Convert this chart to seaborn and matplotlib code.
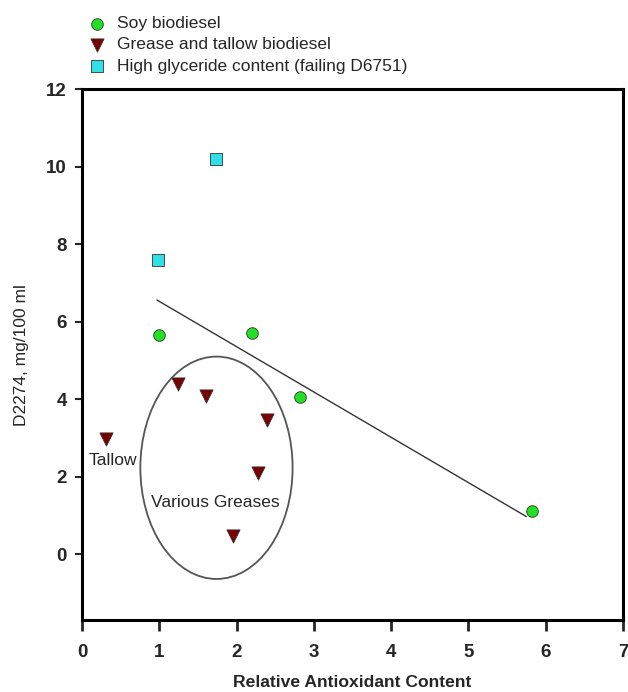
import numpy as np
import pandas as pd
import seaborn as sns
import matplotlib.pyplot as plt
from matplotlib.patches import Ellipse

# data
soy_x = [1.0, 2.2, 2.82, 5.82]
soy_y = [5.67, 5.7, 4.06, 1.12]
grease_x = [0.31, 1.24, 1.61, 2.39, 2.28, 1.96]
grease_y = [2.97, 4.38, 4.08, 3.46, 2.10, 0.46]
glyc_x = [0.98, 1.73]
glyc_y = [7.59, 10.2]
trend_x = [0.97, 5.75]
trend_y = [6.56, 0.97]

labels = ["Soy biodiesel", "Grease and tallow biodiesel",
          "High glyceride content (failing D6751)"]

df = pd.DataFrame({
    "x": soy_x + grease_x + glyc_x,
    "y": soy_y + grease_y + glyc_y,
    "group": [labels[0]] * len(soy_x) + [labels[1]] * len(grease_x) + [labels[2]] * len(glyc_x),
})

sns.set_style("white")
plt.rcParams['font.family'] = ['Liberation Sans', 'DejaVu Sans']

fig = plt.figure(figsize=(6.28, 6.92), dpi=100)
ax = fig.add_axes([0.1306, 0.104, 0.8614, 0.767])

palette = {labels[0]: "#22e022", labels[1]: "#7a0000", labels[2]: "#30e0e8"}
markers = {labels[0]: "o", labels[1]: "v", labels[2]: "s"}
sizes = {labels[0]: 70, labels[1]: 90, labels[2]: 80}

for g in labels:
    sub = df[df.group == g]
    sns.scatterplot(data=sub, x="x", y="y", color=palette[g], marker=markers[g],
                    s=sizes[g], edgecolor="#333333", linewidth=0.6, ax=ax,
                    label=g, zorder=3)

sns.lineplot(x=trend_x, y=trend_y, color="#333333", linewidth=1.0, ax=ax,
             legend=False, zorder=2)

ax.add_patch(Ellipse((1.74, 2.23), 1.97, 5.74, fill=False, edgecolor="#555555",
                     linewidth=1.3, zorder=1))
ax.text(0.4, 2.43, "Tallow", ha="center", va="center", fontsize=12.5)
ax.text(1.72, 1.33, "Various Greases", ha="center", va="center", fontsize=12.5)

ax.set_xlim(0, 7)
ax.set_ylim(-1.7, 12)
ax.set_xticks(range(0, 8))
ax.set_yticks(range(0, 13, 2))
ax.tick_params(axis="x", direction="out", length=8, width=2, labelsize=13.5, pad=9)
ax.tick_params(axis="y", direction="out", length=5, width=1.5, labelsize=13.5, pad=6)
ax.tick_params(left=True, bottom=True)
for t in ax.get_xticklabels() + ax.get_yticklabels():
    t.set_fontweight("bold")
for s in ax.spines.values():
    s.set_linewidth(2.2)
    s.set_color("black")

ax.set_xlabel("Relative Antioxidant Content", fontsize=12.6, fontweight="bold", labelpad=10)
ax.set_ylabel("D2274, mg/100 ml", fontsize=12.5, labelpad=12)

ax.legend(loc="upper left", bbox_to_anchor=(0.105, 0.997), bbox_transform=fig.transFigure,
          frameon=False, fontsize=12.5, handletextpad=0.15, labelspacing=0.35,
          borderaxespad=0.4, markerscale=1.0)

fig.savefig("out.png", dpi=100)
